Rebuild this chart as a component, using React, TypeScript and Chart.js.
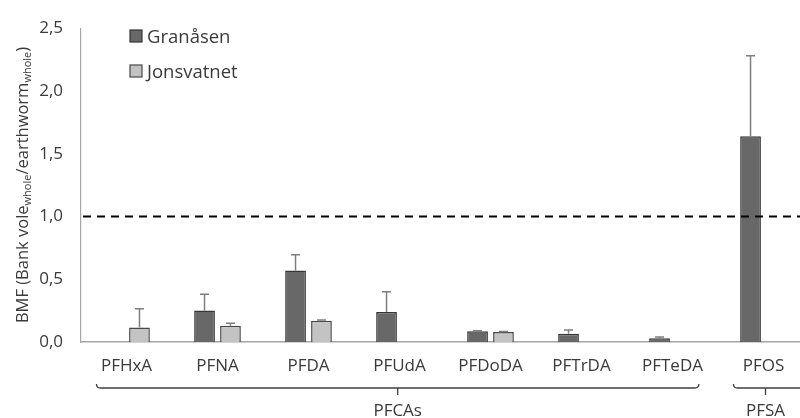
import React, { useEffect, useRef } from 'react';
import { Chart, registerables } from 'chart.js';
Chart.register(...registerables);

const categories = ['PFHxA', 'PFNA', 'PFDA', 'PFUdA', 'PFDoDA', 'PFTrDA', 'PFTeDA', 'PFOS'];
const granasen = [null, 0.25, 0.57, 0.24, 0.085, 0.065, 0.03, 1.64];
const granasenErr = [0, 0.13, 0.125, 0.16, 0.004, 0.03, 0.01, 0.64];
const jonsvatnet = [0.115, 0.13, 0.17, null, 0.08, null, null, null];
const jonsvatnetErr = [0.15, 0.02, 0.005, 0, 0.004, 0, 0, 0];
const seriesNames = ['Granåsen', 'Jonsvatnet'];
const yTicks = [0, 0.5, 1.0, 1.5, 2.0, 2.5];
const groupLabels = ['PFCAs', 'PFSA'];
const groupFrom = [0, 7];
const groupTo = [6, 7];
const threshold = 1.0;

const FONT = '"Open Sans", sans-serif';
const TEXT = '#3a3a3a';
const FILLS = ['#686868', '#c3c3c3'];
const BORDERS = ['#363636', '#484848'];
const errs = [granasenErr, jonsvatnetErr];

const extrasPlugin = {
  id: 'extras',
  afterDatasetsDraw(chart: any) {
    const ctx = chart.ctx;
    const ys = chart.scales.y;
    const xs = chart.scales.x;
    const area = chart.chartArea;
    ctx.save();
    // error bars
    chart.data.datasets.forEach((ds: any, i: number) => {
      const meta = chart.getDatasetMeta(i);
      meta.data.forEach((bar: any, j: number) => {
        const v = ds.data[j];
        const e = errs[i][j];
        if (v == null || !e) return;
        const x = bar.x;
        const y0 = bar.y;
        const y1 = ys.getPixelForValue(v + e);
        ctx.strokeStyle = '#7f7f7f';
        ctx.lineWidth = 1.5;
        ctx.beginPath();
        ctx.moveTo(x, y0);
        ctx.lineTo(x, y1);
        ctx.moveTo(x - 4.5, y1);
        ctx.lineTo(x + 4.5, y1);
        ctx.stroke();
      });
    });
    // threshold dashed line
    const ty = ys.getPixelForValue(threshold);
    ctx.strokeStyle = '#000';
    ctx.lineWidth = 2;
    ctx.setLineDash([8, 6]);
    ctx.beginPath();
    ctx.moveTo(area.left + 2, ty);
    ctx.lineTo(chart.width, ty);
    ctx.stroke();
    ctx.setLineDash([]);

    // legend
    ctx.font = '18.5px ' + FONT;
    ctx.textBaseline = 'middle';
    ctx.textAlign = 'left';
    seriesNames.forEach((n, i) => {
      const top = 30 + i * 35;
      ctx.fillStyle = FILLS[i];
      ctx.fillRect(130, top, 12, 12);
      ctx.strokeStyle = BORDERS[i];
      ctx.lineWidth = 1.2;
      ctx.strokeRect(130, top, 12, 12);
      ctx.fillStyle = TEXT;
      ctx.fillText(n, 147, top + 7.5);
    });

    // group brackets
    const cw = xs.getPixelForTick(1) - xs.getPixelForTick(0);
    const by = 388;
    ctx.strokeStyle = '#404040';
    ctx.lineWidth = 1.3;
    groupLabels.forEach((lab, g) => {
      const l = xs.getPixelForTick(groupFrom[g]) - 0.33 * cw;
      const r = xs.getPixelForTick(groupTo[g]) + (g === 0 ? 0.29 * cw : 0.6 * cw);
      const c = g === 0 ? (l + r) / 2 : xs.getPixelForTick(groupFrom[g]) + 2;
      ctx.beginPath();
      ctx.moveTo(l, by - 4);
      ctx.quadraticCurveTo(l, by, l + 4, by);
      ctx.lineTo(r - 4, by);
      ctx.quadraticCurveTo(r, by, r, by - 4);
      ctx.moveTo(c, by);
      ctx.lineTo(c, by + 7);
      ctx.stroke();
      ctx.font = '17px ' + FONT;
      ctx.fillStyle = TEXT;
      ctx.textAlign = 'center';
      ctx.textBaseline = 'alphabetic';
      ctx.fillText(lab, c, 416);
    });

    // y title with subscripts
    ctx.save();
    ctx.translate(28, 185);
    ctx.rotate(-Math.PI / 2);
    const parts: [string, boolean][] = [
      ['BMF (Bank vole', false],
      ['whole', true],
      ['/earthworm', false],
      ['whole', true],
      [')', false],
    ];
    const big = '16.5px ' + FONT;
    const small = '11px ' + FONT;
    let total = 0;
    parts.forEach(([t, s]) => {
      ctx.font = s ? small : big;
      total += ctx.measureText(t).width;
    });
    let x = -total / 2;
    ctx.textAlign = 'left';
    ctx.textBaseline = 'alphabetic';
    ctx.fillStyle = TEXT;
    parts.forEach(([t, s]) => {
      ctx.font = s ? small : big;
      ctx.fillText(t, x, s ? 3 : 0);
      x += ctx.measureText(t).width;
    });
    ctx.restore();
    ctx.restore();
  },
};

export default function App() {
  const ref = useRef<HTMLCanvasElement>(null);
  useEffect(() => {
    if (!ref.current) return;
    const chart = new Chart(ref.current, {
      type: 'bar',
      data: {
        labels: categories,
        datasets: [
          {
            label: seriesNames[0],
            data: granasen as any,
            backgroundColor: FILLS[0],
            borderColor: BORDERS[0],
            borderWidth: 1.5,
            categoryPercentage: 0.57,
            barPercentage: 0.8,
          },
          {
            label: seriesNames[1],
            data: jonsvatnet as any,
            backgroundColor: FILLS[1],
            borderColor: BORDERS[1],
            borderWidth: 1.5,
            categoryPercentage: 0.57,
            barPercentage: 0.8,
          },
        ],
      },
      options: {
        responsive: false,
        maintainAspectRatio: false,
        animation: false,
        layout: { padding: { top: 27, right: 21, left: 0, bottom: 0 } },
        plugins: { legend: { display: false }, tooltip: { enabled: false } },
        scales: {
          x: {
            grid: { display: false, drawTicks: false },
            border: { display: true, color: '#a6a6a6', width: 1.5 },
            ticks: { color: TEXT, font: { family: FONT, size: 17 }, padding: 14, maxRotation: 0 },
            afterFit(s: any) { s.height = 76; },
          },
          y: {
            min: 0,
            max: 2.5,
            grid: { display: false, drawTicks: false },
            border: { display: true, color: '#a6a6a6', width: 1.2 },
            afterBuildTicks(s: any) { s.ticks = yTicks.map((v) => ({ value: v })); },
            ticks: {
              color: TEXT,
              font: { family: FONT, size: 17 },
              padding: 18,
              callback: (v: any) => Number(v).toFixed(1).replace('.', ','),
            },
            afterFit(s: any) { s.width = 81; },
          },
        },
      },
      plugins: [extrasPlugin],
    });
    return () => chart.destroy();
  }, []);
  return (
    <div style={{ position: 'absolute', left: 0, top: 0, width: 800, height: 418, overflow: 'hidden', background: '#fff' }}>
      <canvas ref={ref} width={830} height={418} style={{ width: 830, height: 418, display: 'block' }} />
    </div>
  );
}
